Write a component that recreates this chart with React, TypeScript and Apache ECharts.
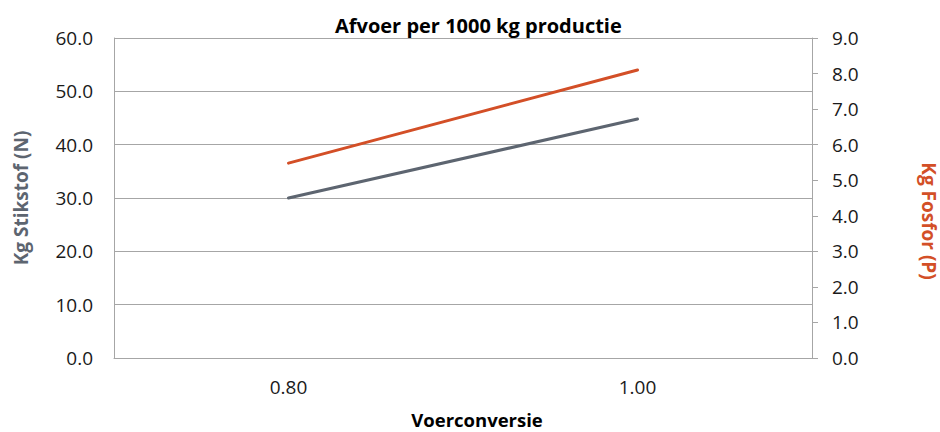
import React, { useEffect, useRef } from "react";
import * as echarts from "echarts";

const categories = ["0.80", "1.00"];
const stikstof = [30.0, 44.8];
const fosfor = [5.48, 8.1];
const leftTicks = { min: 0, max: 60, interval: 10 };
const rightTicks = { min: 0, max: 9, interval: 1 };

const FONT = "'Open Sans', 'Noto Sans', sans-serif";
const GREY = "#5d6570";
const ORANGE = "#d34f27";
const GRID = "#a6a6a6";

export default function App() {
  const ref = useRef<HTMLDivElement>(null);
  useEffect(() => {
    if (!ref.current) return;
    const chart = echarts.init(ref.current, undefined, { renderer: "svg" });
    chart.setOption({
      animation: false,
      textStyle: { fontFamily: FONT },
      title: {
        text: "Afvoer per 1000 kg productie",
        left: 330,
        top: 10,
        textStyle: { fontFamily: FONT, fontSize: 20, fontWeight: "bold", color: "#000" },
      },
      grid: { left: 114, right: 128, top: 38, bottom: 74, outerBoundsMode: "none", containLabel: false },
      xAxis: {
        type: "category",
        data: categories,
        boundaryGap: true,
        name: "Voerconversie",
        nameLocation: "middle",
        nameGap: 52,
        nameTextStyle: {
          fontFamily: FONT,
          fontSize: 18.5,
          lineHeight: 18,
          fontWeight: "bold",
          color: "#000",
          padding: [0, 0, 0, 28],
        },
        axisLine: { lineStyle: { color: GRID, width: 1 } },
        axisTick: { show: false },
        axisLabel: { fontFamily: FONT, fontSize: 19, color: "#1a1a1a", margin: 19 },
      },
      yAxis: [
        {
          type: "value",
          position: "left",
          ...leftTicks,
          name: "Kg Stikstof (N)",
          nameLocation: "middle",
          nameRotate: 90,
          nameGap: 84,
          nameTextStyle: { fontFamily: FONT, fontSize: 19, fontWeight: "bold", color: GREY },
          axisLine: { show: true, lineStyle: { color: GRID, width: 1 } },
          axisTick: { show: false },
          axisLabel: {
            fontFamily: FONT,
            fontSize: 19,
            color: "#1a1a1a",
            margin: 21,
            formatter: (v: number) => v.toFixed(1),
          },
          splitLine: { show: true, lineStyle: { color: GRID, width: 1 } },
        },
        {
          type: "value",
          position: "right",
          ...rightTicks,
          name: "Kg Fosfor (P)",
          nameLocation: "middle",
          nameRotate: -90,
          nameGap: 107,
          nameTextStyle: {
            fontFamily: FONT,
            fontSize: 19,
            fontWeight: "bold",
            color: ORANGE,
            padding: [0, 0, 0, 46],
          },
          axisLine: { show: true, lineStyle: { color: GRID, width: 1 } },
          axisTick: { show: true, length: 6, inside: false, lineStyle: { color: GRID } },
          axisLabel: {
            fontFamily: FONT,
            fontSize: 19,
            color: "#1a1a1a",
            margin: 20,
            formatter: (v: number) => v.toFixed(1),
          },
          splitLine: { show: false },
        },
      ],
      series: [
        {
          name: "Kg Stikstof (N)",
          type: "line",
          yAxisIndex: 0,
          data: stikstof,
          symbol: "none",
          lineStyle: { color: GREY, width: 3, cap: "round" },
          itemStyle: { color: GREY },
        },
        {
          name: "Kg Fosfor (P)",
          type: "line",
          yAxisIndex: 1,
          data: fosfor,
          symbol: "none",
          lineStyle: { color: ORANGE, width: 3, cap: "round" },
          itemStyle: { color: ORANGE },
        },
      ],
    });
    return () => chart.dispose();
  }, []);
  return (
    <div
      ref={ref}
      style={{ position: "fixed", left: 0, top: 0, width: 940, height: 432, background: "#fff" }}
    />
  );
}
